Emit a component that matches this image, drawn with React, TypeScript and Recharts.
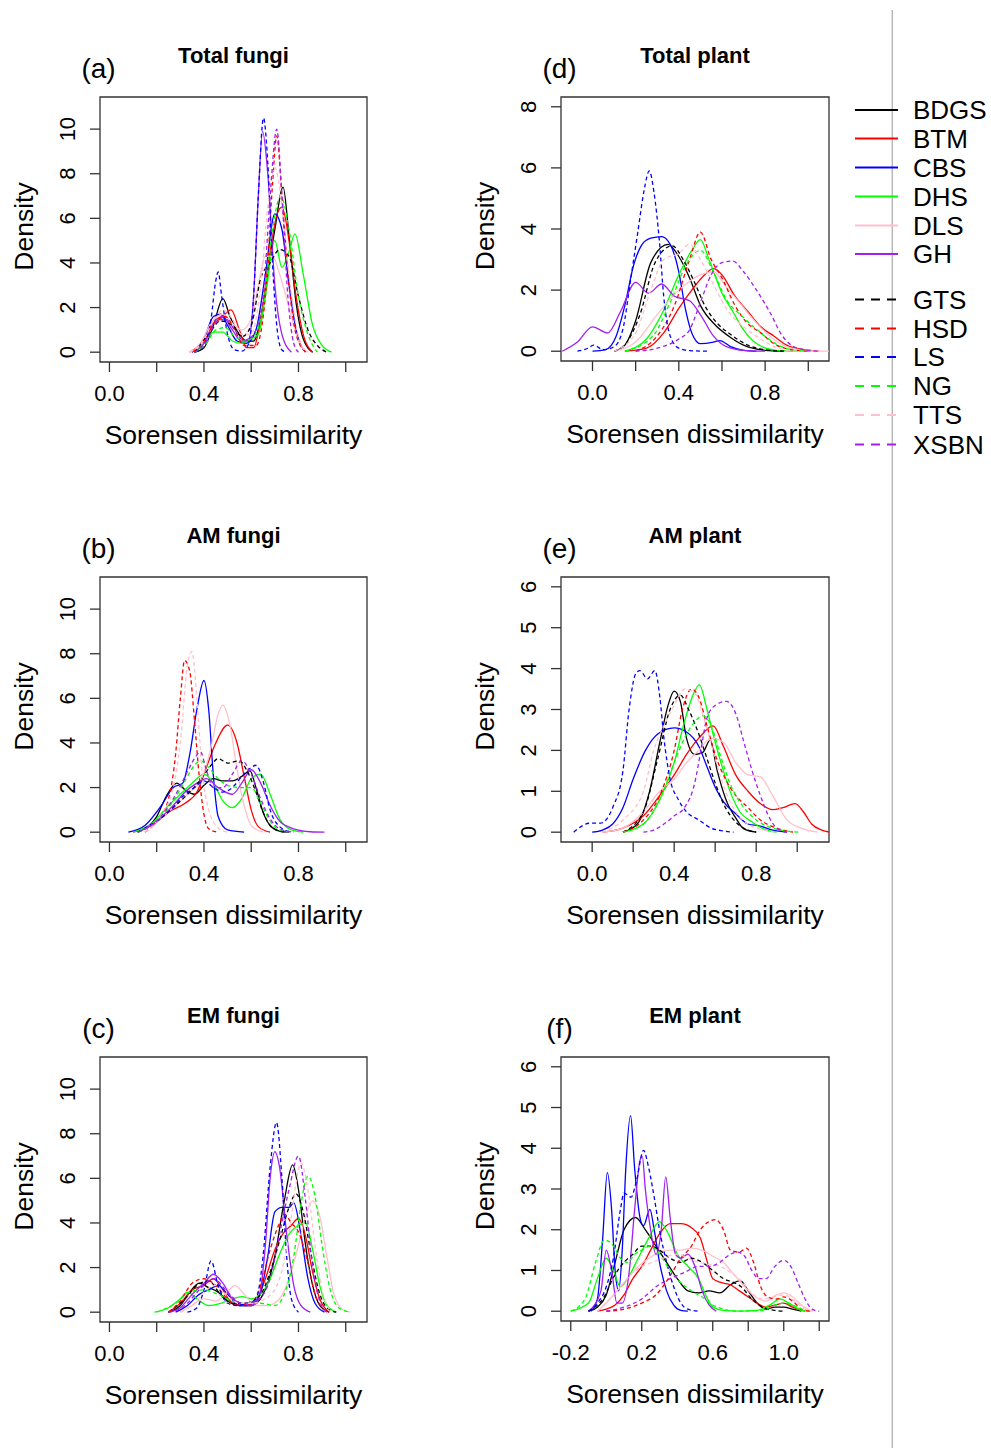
import React from "react";
import { LineChart, Line, XAxis, YAxis, ReferenceArea } from "recharts";

type Pt = [number, number];
type Curves = Record<string, Pt[]>;

// sites in legend order; first six solid, last six dashed
const SITES = ["BDGS", "BTM", "CBS", "DHS", "DLS", "GH", "GTS", "HSD", "LS", "NG", "TTS", "XSBN"];
const SITE_COLORS = ["#000000", "#FF0000", "#0000FF", "#00FF00", "#FFC0CB", "#A020F0", "#000000", "#FF0000", "#0000FF", "#00FF00", "#FFC0CB", "#A020F0"];
const SITE_DASHED = [false, false, false, false, false, false, true, true, true, true, true, true];

// (a) Total fungi
const totalFungi: Curves = {
  BDGS: [[0.36, 0], [0.40, 0.2], [0.44, 1.2], [0.48, 2.4], [0.51, 1.6], [0.55, 0.8], [0.58, 0.5], [0.61, 0.5], [0.64, 1.5], [0.67, 3.5], [0.70, 5.5], [0.735, 7.4], [0.76, 5.2], [0.79, 2.2], [0.82, 0.6], [0.86, 0]],
  BTM: [[0.34, 0], [0.38, 0.3], [0.43, 1.2], [0.47, 1.5], [0.515, 1.9], [0.55, 1.0], [0.58, 0.2], [0.61, 0.2], [0.64, 1.5], [0.68, 4.5], [0.71, 6.2], [0.73, 6.5], [0.76, 5.0], [0.79, 2.5], [0.82, 0.8], [0.86, 0]],
  CBS: [[0.35, 0], [0.40, 0.6], [0.44, 1.6], [0.47, 1.7], [0.50, 1.2], [0.54, 0.5], [0.58, 0.4], [0.62, 1.0], [0.66, 3.5], [0.70, 6.2], [0.73, 5.5], [0.76, 3.0], [0.79, 1.0], [0.83, 0]],
  DHS: [[0.36, 0], [0.40, 0.4], [0.44, 0.9], [0.48, 0.9], [0.52, 0.5], [0.56, 0.4], [0.60, 0.6], [0.63, 0.8], [0.66, 2.5], [0.70, 5.0], [0.73, 3.8], [0.76, 4.5], [0.785, 5.3], [0.82, 3.5], [0.86, 1.2], [0.90, 0.3], [0.94, 0]],
  DLS: [[0.34, 0], [0.38, 0.3], [0.43, 1.3], [0.48, 1.7], [0.52, 1.3], [0.56, 1.0], [0.60, 1.5], [0.63, 3.0], [0.66, 4.3], [0.69, 4.3], [0.72, 3.5], [0.76, 2.0], [0.80, 0.5], [0.84, 0]],
  GH: [[0.36, 0], [0.40, 0.4], [0.44, 1.3], [0.48, 1.6], [0.52, 1.0], [0.56, 0.5], [0.59, 0.6], [0.61, 2.5], [0.63, 7.0], [0.648, 9.9], [0.67, 8.0], [0.70, 3.0], [0.73, 0.8], [0.77, 0]],
  GTS: [[0.36, 0], [0.42, 0.8], [0.47, 1.4], [0.52, 1.2], [0.56, 0.7], [0.60, 1.2], [0.64, 3.3], [0.68, 4.0], [0.72, 4.6], [0.76, 4.3], [0.80, 2.5], [0.84, 1.0], [0.88, 0.3], [0.92, 0]],
  HSD: [[0.35, 0], [0.40, 0.5], [0.45, 1.4], [0.49, 1.6], [0.53, 1.0], [0.57, 0.3], [0.62, 0.3], [0.66, 2.5], [0.69, 7.5], [0.708, 9.7], [0.73, 7.0], [0.76, 3.0], [0.79, 0.8], [0.83, 0]],
  LS: [[0.36, 0], [0.40, 0.3], [0.43, 1.5], [0.45, 3.2], [0.46, 3.6], [0.475, 2.5], [0.50, 0.8], [0.53, 0.1], [0.56, 0.05], [0.59, 0.4], [0.61, 2.5], [0.63, 7.0], [0.652, 10.5], [0.67, 8.5], [0.69, 4.0], [0.71, 1.0], [0.73, 0.1], [0.75, 0]],
  NG: [[0.36, 0], [0.41, 0.4], [0.45, 1.0], [0.49, 1.1], [0.53, 0.7], [0.57, 0.5], [0.61, 0.7], [0.65, 2.0], [0.69, 5.5], [0.725, 7.0], [0.76, 5.5], [0.80, 2.5], [0.84, 0.8], [0.88, 0]],
  TTS: [[0.34, 0], [0.39, 0.4], [0.44, 1.4], [0.48, 1.9], [0.52, 1.5], [0.56, 0.8], [0.60, 0.8], [0.64, 3.0], [0.67, 6.5], [0.70, 8.3], [0.73, 6.5], [0.76, 3.5], [0.79, 1.2], [0.83, 0]],
  XSBN: [[0.36, 0], [0.41, 0.5], [0.45, 1.3], [0.49, 1.5], [0.53, 1.0], [0.57, 0.5], [0.61, 0.8], [0.65, 2.5], [0.68, 7.0], [0.708, 10.0], [0.73, 7.0], [0.755, 2.5], [0.78, 0.4], [0.80, 0]],
};

// (b) AM fungi
const amFungi: Curves = {
  BDGS: [[0.12, 0], [0.20, 0.7], [0.24, 1.6], [0.285, 2.2], [0.32, 1.9], [0.36, 1.7], [0.40, 2.1], [0.44, 2.4], [0.48, 2.3], [0.52, 2.3], [0.56, 2.5], [0.595, 2.75], [0.62, 2.0], [0.65, 0.9], [0.68, 0.3], [0.72, 0.05], [0.76, 0]],
  BTM: [[0.10, 0], [0.18, 0.3], [0.25, 0.9], [0.32, 1.3], [0.37, 1.8], [0.41, 2.9], [0.45, 4.0], [0.50, 4.8], [0.54, 4.0], [0.57, 2.5], [0.60, 1.0], [0.63, 0.25], [0.68, 0]],
  CBS: [[0.08, 0], [0.15, 0.3], [0.22, 1.2], [0.27, 2.0], [0.31, 2.2], [0.34, 3.5], [0.37, 5.5], [0.40, 6.8], [0.42, 5.5], [0.44, 2.5], [0.46, 0.7], [0.50, 0.1], [0.57, 0]],
  DHS: [[0.10, 0], [0.18, 0.4], [0.25, 1.2], [0.31, 1.8], [0.36, 2.3], [0.40, 2.6], [0.44, 2.2], [0.48, 1.4], [0.52, 1.1], [0.56, 1.5], [0.60, 2.4], [0.64, 2.6], [0.68, 1.7], [0.72, 0.6], [0.76, 0.15], [0.82, 0]],
  DLS: [[0.12, 0], [0.20, 0.5], [0.28, 1.2], [0.34, 1.8], [0.39, 2.4], [0.43, 3.8], [0.46, 5.3], [0.48, 5.7], [0.51, 4.8], [0.54, 2.8], [0.57, 1.2], [0.60, 0.3], [0.65, 0]],
  GH: [[0.12, 0], [0.20, 0.5], [0.27, 1.2], [0.32, 1.8], [0.37, 2.2], [0.41, 2.4], [0.46, 2.0], [0.52, 1.7], [0.56, 2.2], [0.60, 2.8], [0.64, 2.2], [0.68, 1.2], [0.72, 0.5], [0.78, 0.15], [0.85, 0.02], [0.91, 0]],
  GTS: [[0.12, 0], [0.20, 0.5], [0.28, 1.2], [0.34, 1.8], [0.39, 2.4], [0.43, 3.0], [0.46, 3.3], [0.50, 3.1], [0.55, 3.2], [0.58, 2.8], [0.62, 1.8], [0.65, 0.9], [0.68, 0.3], [0.72, 0.05], [0.75, 0]],
  HSD: [[0.15, 0], [0.20, 0.5], [0.25, 1.5], [0.28, 3.5], [0.30, 6.0], [0.318, 7.7], [0.34, 7.2], [0.36, 5.0], [0.38, 2.5], [0.40, 0.8], [0.42, 0.15], [0.46, 0]],
  LS: [[0.12, 0], [0.20, 0.5], [0.26, 1.0], [0.31, 1.6], [0.36, 2.0], [0.40, 2.3], [0.44, 2.0], [0.48, 1.8], [0.52, 2.0], [0.56, 2.5], [0.60, 2.9], [0.62, 3.0], [0.65, 2.3], [0.68, 1.0], [0.72, 0.25], [0.77, 0]],
  NG: [[0.12, 0], [0.20, 0.5], [0.27, 1.4], [0.32, 2.3], [0.36, 3.0], [0.385, 3.2], [0.42, 2.9], [0.46, 2.4], [0.50, 2.1], [0.55, 2.0], [0.60, 2.0], [0.64, 1.3], [0.68, 0.5], [0.72, 0.1], [0.78, 0]],
  TTS: [[0.15, 0], [0.22, 0.8], [0.27, 2.0], [0.30, 4.0], [0.33, 7.5], [0.349, 8.1], [0.37, 6.0], [0.39, 3.0], [0.42, 1.0], [0.46, 0.2], [0.50, 0]],
  XSBN: [[0.12, 0], [0.20, 0.5], [0.27, 1.5], [0.32, 2.5], [0.36, 3.3], [0.385, 3.6], [0.41, 2.8], [0.44, 2.0], [0.48, 2.0], [0.52, 2.6], [0.56, 3.2], [0.60, 2.6], [0.64, 1.5], [0.68, 0.6], [0.72, 0.15], [0.78, 0]],
};

// (c) EM fungi
const emFungi: Curves = {
  BDGS: [[0.25, 0], [0.30, 0.3], [0.34, 0.9], [0.38, 1.3], [0.42, 1.1], [0.46, 0.9], [0.50, 0.5], [0.55, 0.3], [0.60, 0.3], [0.65, 0.8], [0.70, 2.5], [0.74, 5.0], [0.775, 6.6], [0.80, 5.5], [0.83, 3.0], [0.86, 1.2], [0.89, 0.3], [0.93, 0]],
  BTM: [[0.25, 0], [0.30, 0.4], [0.35, 1.0], [0.40, 1.2], [0.44, 1.5], [0.48, 1.0], [0.52, 0.4], [0.58, 0.3], [0.62, 0.5], [0.66, 1.5], [0.70, 2.8], [0.74, 3.6], [0.77, 3.9], [0.80, 4.2], [0.83, 3.4], [0.86, 1.8], [0.89, 0.6], [0.93, 0]],
  CBS: [[0.28, 0], [0.33, 0.3], [0.38, 0.8], [0.42, 1.0], [0.46, 1.2], [0.50, 0.8], [0.55, 0.3], [0.60, 0.3], [0.64, 0.9], [0.67, 2.5], [0.70, 4.5], [0.73, 4.7], [0.76, 4.7], [0.78, 4.9], [0.81, 3.5], [0.84, 1.5], [0.87, 0.4], [0.91, 0]],
  DHS: [[0.19, 0], [0.25, 0.2], [0.30, 0.6], [0.33, 0.9], [0.37, 0.6], [0.42, 0.3], [0.47, 0.4], [0.52, 0.6], [0.56, 0.7], [0.60, 0.6], [0.64, 0.8], [0.68, 1.5], [0.72, 2.6], [0.76, 3.5], [0.80, 3.9], [0.83, 4.0], [0.86, 2.8], [0.89, 1.2], [0.92, 0.3], [0.96, 0]],
  DLS: [[0.30, 0], [0.35, 0.3], [0.40, 0.6], [0.45, 0.5], [0.50, 0.9], [0.53, 1.2], [0.57, 0.8], [0.62, 0.3], [0.67, 0.3], [0.72, 0.6], [0.76, 1.5], [0.80, 3.0], [0.83, 4.3], [0.86, 5.0], [0.89, 4.3], [0.92, 2.5], [0.95, 0.8], [0.99, 0.1], [1.02, 0]],
  GH: [[0.25, 0], [0.30, 0.2], [0.35, 0.8], [0.40, 1.3], [0.44, 1.7], [0.48, 1.3], [0.52, 0.6], [0.56, 0.4], [0.60, 0.3], [0.63, 0.6], [0.66, 3.0], [0.68, 6.0], [0.70, 7.2], [0.72, 6.5], [0.75, 3.5], [0.78, 1.2], [0.81, 0.3], [0.85, 0]],
  GTS: [[0.25, 0], [0.32, 0.6], [0.37, 1.2], [0.42, 1.4], [0.47, 0.8], [0.52, 0.4], [0.58, 0.4], [0.64, 0.8], [0.68, 1.8], [0.72, 3.2], [0.76, 4.7], [0.79, 5.3], [0.82, 4.5], [0.85, 2.8], [0.88, 1.2], [0.92, 0.2], [0.96, 0]],
  HSD: [[0.25, 0], [0.30, 0.5], [0.35, 1.3], [0.40, 1.5], [0.45, 1.2], [0.50, 0.6], [0.55, 0.3], [0.60, 0.4], [0.64, 1.2], [0.68, 2.8], [0.72, 4.0], [0.74, 4.4], [0.77, 4.0], [0.80, 3.6], [0.84, 2.2], [0.87, 0.8], [0.90, 0.2], [0.93, 0]],
  LS: [[0.33, 0], [0.37, 0.2], [0.40, 1.0], [0.43, 2.3], [0.46, 1.2], [0.50, 0.4], [0.54, 0.3], [0.58, 0.4], [0.62, 0.6], [0.65, 2.5], [0.68, 6.5], [0.707, 8.5], [0.73, 6.0], [0.75, 2.5], [0.77, 0.6], [0.80, 0]],
  NG: [[0.20, 0], [0.28, 0.4], [0.34, 0.9], [0.40, 1.0], [0.46, 0.8], [0.52, 0.5], [0.58, 0.4], [0.64, 0.4], [0.70, 0.3], [0.74, 0.8], [0.78, 2.5], [0.81, 4.8], [0.84, 6.1], [0.87, 5.2], [0.90, 3.0], [0.93, 1.2], [0.97, 0.2], [1.02, 0]],
  TTS: [[0.30, 0], [0.36, 0.4], [0.41, 1.0], [0.45, 1.2], [0.50, 0.7], [0.55, 0.4], [0.60, 0.4], [0.66, 0.6], [0.72, 1.5], [0.76, 3.5], [0.79, 5.8], [0.81, 6.7], [0.84, 5.5], [0.87, 3.0], [0.90, 1.0], [0.94, 0]],
  XSBN: [[0.25, 0], [0.32, 0.3], [0.38, 1.0], [0.44, 1.5], [0.50, 0.9], [0.56, 0.4], [0.62, 0.5], [0.68, 1.5], [0.72, 3.5], [0.76, 5.5], [0.80, 7.0], [0.83, 5.0], [0.86, 2.0], [0.89, 0.5], [0.92, 0]],
};

// (d) Total plant
const totalPlant: Curves = {
  BDGS: [[0.10, 0], [0.15, 0.2], [0.20, 1.0], [0.27, 2.9], [0.35, 3.5], [0.40, 3.1], [0.45, 2.4], [0.50, 1.5], [0.57, 0.85], [0.63, 0.5], [0.70, 0.2], [0.80, 0.03], [0.88, 0]],
  BTM: [[0.15, 0], [0.25, 0.1], [0.33, 0.6], [0.40, 1.4], [0.46, 2.0], [0.52, 2.5], [0.56, 2.7], [0.60, 2.5], [0.66, 1.8], [0.72, 1.3], [0.78, 0.8], [0.84, 0.5], [0.90, 0.2], [0.98, 0.05], [1.05, 0]],
  CBS: [[0.0, 0], [0.06, 0.05], [0.11, 0.5], [0.15, 1.5], [0.19, 2.8], [0.23, 3.5], [0.27, 3.7], [0.32, 3.75], [0.36, 3.5], [0.40, 2.6], [0.43, 1.4], [0.46, 0.6], [0.50, 0.25], [0.56, 0.3], [0.59, 0.35], [0.64, 0.15], [0.70, 0.03], [0.76, 0]],
  DHS: [[0.15, 0], [0.25, 0.4], [0.32, 1.2], [0.40, 2.5], [0.46, 3.3], [0.50, 3.65], [0.54, 3.0], [0.60, 1.9], [0.65, 1.3], [0.70, 0.7], [0.76, 0.25], [0.85, 0.03], [0.95, 0]],
  DLS: [[0.10, 0], [0.20, 0.3], [0.30, 1.2], [0.40, 2.0], [0.50, 2.5], [0.56, 2.6], [0.62, 2.1], [0.68, 1.6], [0.75, 1.0], [0.82, 0.5], [0.90, 0.15], [1.0, 0.02], [1.1, 0]],
  GH: [[-0.14, 0], [-0.07, 0.3], [0.0, 0.8], [0.07, 0.6], [0.13, 1.3], [0.20, 2.25], [0.26, 1.9], [0.32, 2.2], [0.38, 1.8], [0.45, 1.65], [0.50, 1.2], [0.56, 0.5], [0.62, 0.15], [0.70, 0.03], [0.80, 0]],
  GTS: [[0.10, 0], [0.16, 0.3], [0.22, 1.2], [0.29, 2.9], [0.37, 3.45], [0.42, 3.0], [0.47, 2.3], [0.52, 1.5], [0.58, 0.9], [0.64, 0.55], [0.72, 0.2], [0.82, 0.03], [0.90, 0]],
  HSD: [[0.20, 0], [0.30, 0.5], [0.38, 1.5], [0.45, 3.0], [0.50, 3.9], [0.55, 3.0], [0.60, 2.4], [0.66, 1.5], [0.72, 0.9], [0.78, 0.6], [0.84, 0.25], [0.92, 0.05], [1.0, 0]],
  LS: [[-0.07, 0], [-0.02, 0.1], [0.005, 0.2], [0.05, 0.05], [0.10, 0.15], [0.14, 0.7], [0.18, 2.5], [0.21, 3.9], [0.24, 5.3], [0.263, 5.9], [0.285, 5.2], [0.31, 3.6], [0.33, 1.8], [0.36, 0.5], [0.40, 0.1], [0.45, 0.02], [0.54, 0]],
  NG: [[0.15, 0], [0.28, 0.5], [0.36, 1.6], [0.44, 2.9], [0.50, 3.3], [0.56, 2.6], [0.62, 1.7], [0.70, 1.1], [0.78, 0.6], [0.86, 0.2], [0.95, 0.02], [1.02, 0]],
  TTS: [[0.10, 0], [0.20, 0.6], [0.27, 2.0], [0.33, 3.0], [0.40, 3.2], [0.45, 3.5], [0.50, 3.0], [0.56, 2.2], [0.62, 1.4], [0.70, 0.8], [0.78, 0.4], [0.86, 0.1], [0.95, 0]],
  XSBN: [[0.20, 0], [0.30, 0.1], [0.40, 0.4], [0.45, 0.7], [0.50, 1.6], [0.55, 2.5], [0.60, 2.9], [0.65, 2.95], [0.70, 2.6], [0.76, 2.0], [0.82, 1.3], [0.88, 0.5], [0.95, 0.1], [1.05, 0]],
};

// (e) AM plant (no GH curve visible)
const amPlant: Curves = {
  BDGS: [[0.15, 0], [0.22, 0.2], [0.28, 1.0], [0.33, 2.2], [0.37, 3.1], [0.40, 3.45], [0.43, 3.2], [0.46, 2.3], [0.50, 1.9], [0.54, 1.95], [0.575, 2.25], [0.61, 1.5], [0.66, 0.7], [0.70, 0.35], [0.74, 0.08], [0.80, 0]],
  BTM: [[0.05, 0], [0.15, 0.1], [0.25, 0.4], [0.33, 0.9], [0.40, 1.4], [0.46, 1.9], [0.52, 2.3], [0.59, 2.6], [0.64, 2.1], [0.70, 1.4], [0.76, 1.0], [0.82, 0.7], [0.88, 0.55], [0.93, 0.6], [0.99, 0.7], [1.03, 0.5], [1.07, 0.2], [1.12, 0.05], [1.16, 0]],
  CBS: [[0.0, 0], [0.05, 0.05], [0.10, 0.2], [0.15, 0.6], [0.20, 1.3], [0.26, 2.0], [0.32, 2.4], [0.40, 2.55], [0.46, 2.45], [0.52, 2.1], [0.56, 1.6], [0.60, 1.1], [0.64, 0.75], [0.70, 0.45], [0.76, 0.2], [0.82, 0.15], [0.88, 0.05], [0.95, 0]],
  DHS: [[0.15, 0], [0.25, 0.2], [0.33, 0.8], [0.40, 1.7], [0.45, 2.7], [0.50, 3.45], [0.523, 3.6], [0.56, 3.0], [0.60, 2.2], [0.64, 1.5], [0.68, 0.9], [0.72, 0.5], [0.78, 0.25], [0.85, 0.05], [0.90, 0]],
  DLS: [[0.05, 0], [0.15, 0.1], [0.25, 0.5], [0.33, 1.0], [0.40, 1.3], [0.46, 1.7], [0.52, 2.0], [0.58, 2.3], [0.64, 2.2], [0.70, 1.7], [0.76, 1.4], [0.82, 1.35], [0.88, 0.9], [0.95, 0.3], [1.02, 0.1], [1.10, 0]],
  GH: [],
  GTS: [[0.15, 0], [0.25, 0.5], [0.32, 1.8], [0.38, 3.0], [0.43, 3.35], [0.47, 3.0], [0.52, 2.4], [0.56, 1.8], [0.60, 1.2], [0.65, 0.6], [0.70, 0.25], [0.76, 0.05], [0.80, 0]],
  HSD: [[0.15, 0], [0.25, 0.3], [0.33, 0.9], [0.40, 2.0], [0.44, 3.0], [0.485, 3.5], [0.52, 3.3], [0.56, 2.6], [0.60, 1.9], [0.65, 1.3], [0.70, 0.9], [0.76, 0.6], [0.82, 0.3], [0.90, 0.1], [0.98, 0]],
  LS: [[-0.09, 0], [-0.01, 0.22], [0.04, 0.22], [0.10, 0.6], [0.15, 1.5], [0.18, 3.0], [0.215, 3.9], [0.233, 3.95], [0.27, 3.75], [0.306, 3.95], [0.33, 3.3], [0.35, 2.3], [0.38, 1.3], [0.42, 0.8], [0.46, 0.5], [0.52, 0.3], [0.58, 0.1], [0.64, 0.03], [0.69, 0]],
  NG: [[0.15, 0], [0.25, 0.2], [0.33, 0.8], [0.40, 1.7], [0.45, 2.3], [0.50, 2.7], [0.54, 2.85], [0.58, 2.6], [0.63, 1.8], [0.68, 1.1], [0.74, 0.6], [0.80, 0.3], [0.88, 0.1], [0.96, 0.02], [1.02, 0]],
  TTS: [[0.05, 0], [0.15, 0.3], [0.25, 1.0], [0.30, 2.0], [0.35, 2.6], [0.40, 3.1], [0.45, 3.5], [0.50, 3.4], [0.55, 2.7], [0.60, 1.8], [0.65, 1.0], [0.70, 0.5], [0.76, 0.2], [0.84, 0.05], [0.90, 0]],
  XSBN: [[0.25, 0], [0.30, 0.05], [0.35, 0.2], [0.40, 0.4], [0.45, 0.6], [0.50, 1.2], [0.53, 2.0], [0.56, 2.8], [0.60, 3.1], [0.656, 3.2], [0.70, 2.9], [0.74, 2.2], [0.78, 1.5], [0.82, 0.9], [0.86, 0.4], [0.90, 0.1], [0.95, 0]],
};

// (f) EM plant
const emPlant: Curves = {
  BDGS: [[-0.10, 0], [-0.05, 0.1], [0.0, 0.4], [0.05, 1.2], [0.10, 2.0], [0.165, 2.3], [0.22, 2.0], [0.28, 1.6], [0.34, 1.2], [0.40, 0.8], [0.46, 0.5], [0.52, 0.45], [0.58, 0.5], [0.64, 0.45], [0.70, 0.65], [0.755, 0.75], [0.80, 0.5], [0.85, 0.2], [0.90, 0.05], [0.95, 0.1], [1.0, 0.1], [1.05, 0.05], [1.10, 0]],
  BTM: [[-0.05, 0], [0.0, 0.05], [0.05, 0.15], [0.10, 0.4], [0.15, 0.8], [0.20, 1.1], [0.25, 1.5], [0.30, 1.9], [0.36, 2.15], [0.42, 2.15], [0.48, 2.05], [0.53, 1.8], [0.57, 1.2], [0.60, 0.8], [0.65, 0.7], [0.70, 0.65], [0.75, 0.5], [0.80, 0.35], [0.85, 0.2], [0.90, 0.1], [0.95, 0.15], [1.0, 0.2], [1.05, 0.1], [1.12, 0]],
  CBS: [[-0.087, 0], [-0.05, 0.3], [-0.02, 1.8], [0.006, 3.4], [0.03, 2.5], [0.05, 1.0], [0.07, 0.5], [0.09, 1.5], [0.11, 3.5], [0.137, 4.8], [0.16, 3.5], [0.19, 2.3], [0.21, 2.1], [0.246, 2.5], [0.27, 2.0], [0.30, 1.2], [0.34, 0.5], [0.38, 0.15], [0.42, 0.02], [0.46, 0]],
  DHS: [[-0.20, 0], [-0.10, 0.2], [-0.05, 0.8], [0.0, 1.3], [0.04, 1.0], [0.08, 0.6], [0.12, 0.8], [0.18, 1.3], [0.24, 1.8], [0.30, 2.2], [0.35, 1.9], [0.40, 1.4], [0.46, 1.1], [0.52, 0.8], [0.56, 0.4], [0.60, 0.1], [0.66, 0.02], [0.75, 0], [0.85, 0.02], [0.92, 0.15], [0.98, 0.3], [1.03, 0.2], [1.10, 0.02], [1.15, 0]],
  DLS: [[-0.05, 0], [0.0, 0.2], [0.06, 0.5], [0.12, 0.8], [0.18, 1.1], [0.24, 1.3], [0.30, 1.45], [0.36, 1.5], [0.42, 1.5], [0.48, 1.55], [0.54, 1.5], [0.60, 1.35], [0.66, 1.2], [0.72, 0.9], [0.78, 0.6], [0.84, 0.35], [0.90, 0.25], [0.96, 0.4], [1.0, 0.45], [1.05, 0.35], [1.10, 0.15], [1.16, 0]],
  GH: [[-0.10, 0], [-0.03, 0.5], [0.0, 1.5], [0.03, 1.0], [0.06, 0.2], [0.09, 0.2], [0.13, 1.0], [0.16, 2.5], [0.19, 3.7], [0.203, 3.8], [0.22, 3.0], [0.25, 2.0], [0.28, 1.4], [0.31, 2.0], [0.335, 3.3], [0.36, 2.3], [0.39, 1.4], [0.42, 1.3], [0.46, 1.4], [0.50, 1.1], [0.54, 0.5], [0.58, 0.15], [0.62, 0]],
  GTS: [[-0.10, 0], [-0.02, 0.3], [0.05, 0.9], [0.10, 1.2], [0.15, 1.4], [0.20, 1.6], [0.25, 1.6], [0.30, 1.5], [0.36, 1.3], [0.42, 1.2], [0.48, 1.3], [0.54, 1.2], [0.60, 1.0], [0.66, 0.8], [0.72, 0.7], [0.76, 0.6], [0.82, 0.3], [0.88, 0.1], [0.95, 0.02], [1.0, 0]],
  HSD: [[0.0, 0], [0.10, 0.05], [0.20, 0.2], [0.28, 0.4], [0.35, 0.8], [0.42, 1.3], [0.48, 1.6], [0.53, 2.0], [0.58, 2.2], [0.615, 2.25], [0.66, 2.0], [0.70, 1.5], [0.75, 1.45], [0.79, 1.55], [0.83, 1.2], [0.87, 0.6], [0.91, 0.35], [0.96, 0.3], [1.0, 0.35], [1.05, 0.25], [1.10, 0.05], [1.15, 0]],
  LS: [[-0.10, 0], [-0.05, 0.2], [0.0, 0.6], [0.04, 1.3], [0.08, 2.5], [0.10, 2.9], [0.14, 2.8], [0.17, 3.2], [0.21, 3.95], [0.24, 3.5], [0.27, 2.8], [0.30, 2.0], [0.34, 1.2], [0.38, 0.6], [0.42, 0.2], [0.46, 0.05], [0.52, 0]],
  NG: [[-0.20, 0], [-0.12, 0.3], [-0.06, 1.2], [-0.01, 1.75], [0.04, 1.6], [0.08, 1.3], [0.12, 1.2], [0.16, 1.4], [0.20, 1.5], [0.25, 1.6], [0.30, 1.4], [0.36, 1.0], [0.42, 0.7], [0.48, 0.5], [0.54, 0.35], [0.60, 0.15], [0.66, 0.05], [0.72, 0], [0.88, 0.02], [0.95, 0.15], [1.0, 0.2], [1.05, 0.15], [1.12, 0]],
  TTS: [[-0.05, 0], [0.02, 0.3], [0.08, 0.6], [0.14, 0.9], [0.20, 1.1], [0.26, 1.2], [0.32, 1.3], [0.40, 1.4], [0.46, 1.3], [0.52, 1.2], [0.58, 1.15], [0.64, 1.1], [0.70, 0.95], [0.76, 0.75], [0.82, 0.45], [0.88, 0.3], [0.94, 0.35], [1.0, 0.4], [1.06, 0.25], [1.12, 0.05], [1.18, 0]],
  XSBN: [[0.0, 0], [0.10, 0.1], [0.20, 0.3], [0.28, 0.6], [0.36, 0.8], [0.44, 0.95], [0.52, 1.1], [0.58, 1.1], [0.64, 1.2], [0.70, 1.4], [0.74, 1.45], [0.78, 1.35], [0.82, 1.0], [0.86, 0.8], [0.90, 0.8], [0.95, 1.1], [1.0, 1.25], [1.04, 1.1], [1.08, 0.7], [1.12, 0.3], [1.16, 0.05], [1.20, 0]],
};

const X_TICKS_01 = [0, 0.2, 0.4, 0.6, 0.8, 1.0];
const X_TICKS_EM = [-0.2, 0, 0.2, 0.4, 0.6, 0.8, 1.0, 1.2];
const X_LABELS_01 = [0, 0.4, 0.8];
const X_LABELS_EM = [-0.2, 0.2, 0.6, 1.0];
const Y_TICKS_FUNGI = [0, 2, 4, 6, 8, 10];
const Y_TICKS_TOTAL_PLANT = [0, 2, 4, 6, 8];
const Y_TICKS_PLANT = [0, 1, 2, 3, 4, 5, 6];

const FONT = '"Liberation Sans", Arial, Helvetica, sans-serif';
const AXIS_W = 90;
const AXIS_H = 95;
const PAD = 5;

const PANELS = [
  { tag: "(a)", title: "Total fungi", curves: totalFungi, left: 100, top: 97, width: 267, height: 265, xDomain: [-0.04, 1.09], yDomain: [-0.44, 11.44], xTicks: X_TICKS_01, xLabels: X_LABELS_01, yTicks: Y_TICKS_FUNGI },
  { tag: "(b)", title: "AM fungi", curves: amFungi, left: 100, top: 577, width: 267, height: 265, xDomain: [-0.04, 1.09], yDomain: [-0.44, 11.44], xTicks: X_TICKS_01, xLabels: X_LABELS_01, yTicks: Y_TICKS_FUNGI },
  { tag: "(c)", title: "EM fungi", curves: emFungi, left: 100, top: 1057, width: 267, height: 265, xDomain: [-0.04, 1.09], yDomain: [-0.44, 11.44], xTicks: X_TICKS_01, xLabels: X_LABELS_01, yTicks: Y_TICKS_FUNGI },
  { tag: "(d)", title: "Total plant", curves: totalPlant, left: 561, top: 97, width: 268, height: 264, xDomain: [-0.146, 1.096], yDomain: [-0.32, 8.32], xTicks: X_TICKS_01, xLabels: X_LABELS_01, yTicks: Y_TICKS_TOTAL_PLANT },
  { tag: "(e)", title: "AM plant", curves: amPlant, left: 561, top: 577, width: 268, height: 265, xDomain: [-0.152, 1.155], yDomain: [-0.24, 6.24], xTicks: X_TICKS_01, xLabels: X_LABELS_01, yTicks: Y_TICKS_PLANT },
  { tag: "(f)", title: "EM plant", curves: emPlant, left: 561, top: 1057, width: 268, height: 264, xDomain: [-0.255, 1.255], yDomain: [-0.24, 6.24], xTicks: X_TICKS_EM, xLabels: X_LABELS_EM, yTicks: Y_TICKS_PLANT },
];

const XTick = (props: any) => {
  const { x, y, payload, labels } = props;
  const v = payload.value as number;
  if (!labels.some((l: number) => Math.abs(l - v) < 1e-6)) return null;
  return (
    <text x={x} y={y} textAnchor="middle" fontSize={22} fontFamily={FONT} fill="#000">
      {v.toFixed(1)}
    </text>
  );
};

const YTick = (props: any) => {
  const { x, y, payload } = props;
  return (
    <text x={x} y={y} transform={`rotate(-90 ${x} ${y})`} textAnchor="middle" fontSize={22} fontFamily={FONT} fill="#000">
      {String(payload.value)}
    </text>
  );
};

const XTitle = (props: any) => {
  const { x, y, width } = props.viewBox;
  return (
    <text x={x + width / 2} y={y + 82} textAnchor="middle" fontSize={26.5} fontFamily={FONT} fill="#000">
      Sorensen dissimilarity
    </text>
  );
};

const YTitle = (props: any) => {
  const { x, y, height } = props.viewBox;
  const tx = x + 23;
  const ty = y + height / 2 - 3;
  return (
    <text x={tx} y={ty} transform={`rotate(-90 ${tx} ${ty})`} textAnchor="middle" fontSize={26.5} fontFamily={FONT} fill="#000">
      Density
    </text>
  );
};

function Panel({ p }: { p: (typeof PANELS)[number] }) {
  return (
    <div style={{ position: "absolute", left: p.left - AXIS_W, top: p.top - PAD }}>
      <LineChart width={p.width + AXIS_W + PAD} height={p.height + AXIS_H + PAD} margin={{ top: PAD, right: PAD, bottom: 0, left: 0 }}>
        <XAxis
          type="number"
          dataKey="x"
          domain={p.xDomain}
          ticks={p.xTicks}
          interval={0}
          allowDataOverflow
          axisLine={false}
          tickSize={10}
          tickMargin={29}
          tickLine={{ stroke: "#333", strokeWidth: 1.3 }}
          height={AXIS_H}
          tick={<XTick labels={p.xLabels} />}
          label={{ value: "Sorensen dissimilarity", content: XTitle }}
        />
        <YAxis
          type="number"
          domain={p.yDomain}
          ticks={p.yTicks}
          interval={0}
          allowDataOverflow
          axisLine={false}
          tickSize={10}
          tickMargin={15}
          tickLine={{ stroke: "#333", strokeWidth: 1.3 }}
          width={AXIS_W}
          tick={<YTick />}
          label={{ value: "Density", content: YTitle }}
        />
        <ReferenceArea
          x1={p.xDomain[0]}
          x2={p.xDomain[1]}
          y1={p.yDomain[0]}
          y2={p.yDomain[1]}
          fill="none"
          fillOpacity={0}
          stroke="#333"
          strokeWidth={1.3}
          ifOverflow="visible"
        />
        {SITES.map((site, i) => {
          const pts = p.curves[site];
          if (!pts || pts.length === 0) return null;
          return (
            <Line
              key={site}
              name={site}
              data={pts.map(([x, y]) => ({ x, y }))}
              dataKey="y"
              type="monotone"
              stroke={SITE_COLORS[i]}
              strokeWidth={1.3}
              strokeDasharray={SITE_DASHED[i] ? "4 3" : undefined}
              dot={false}
              activeDot={false}
              isAnimationActive={false}
            />
          );
        })}
      </LineChart>
    </div>
  );
}

const LEGEND_ROW_Y = [110, 138.5, 167.5, 196.5, 225.5, 254, 299.5, 328.5, 357, 386, 415, 444.5];

export default function App() {
  return (
    <div style={{ position: "absolute", left: 0, top: 0, width: 991, height: 1448, background: "#fff", overflow: "hidden" }}>
      {PANELS.map((p) => (
        <Panel key={p.tag} p={p} />
      ))}
      <svg width={991} height={1448} style={{ position: "absolute", left: 0, top: 0, pointerEvents: "none" }}>
        <line x1={892.3} x2={892.3} y1={10} y2={1448} stroke="#b8b8b8" strokeWidth={1.5} />
        {PANELS.map((p) => (
          <g key={p.tag}>
            <text x={p.left + p.width / 2} y={p.top - 34} textAnchor="middle" fontSize={22} fontWeight="bold" fontFamily={FONT} fill="#000">
              {p.title}
            </text>
            <text x={p.left - 1.5} y={p.top - 19.5} textAnchor="middle" fontSize={28} fontFamily={FONT} fill="#000">
              {p.tag}
            </text>
          </g>
        ))}
        {SITES.map((site, i) => (
          <g key={site}>
            <line
              x1={855}
              x2={898}
              y1={LEGEND_ROW_Y[i]}
              y2={LEGEND_ROW_Y[i]}
              stroke={SITE_COLORS[i]}
              strokeWidth={2}
              strokeDasharray={SITE_DASHED[i] ? "9 7" : undefined}
            />
            <text x={913} y={LEGEND_ROW_Y[i] + 9} fontSize={26} fontFamily={FONT} fill="#000">
              {site}
            </text>
          </g>
        ))}
      </svg>
    </div>
  );
}
